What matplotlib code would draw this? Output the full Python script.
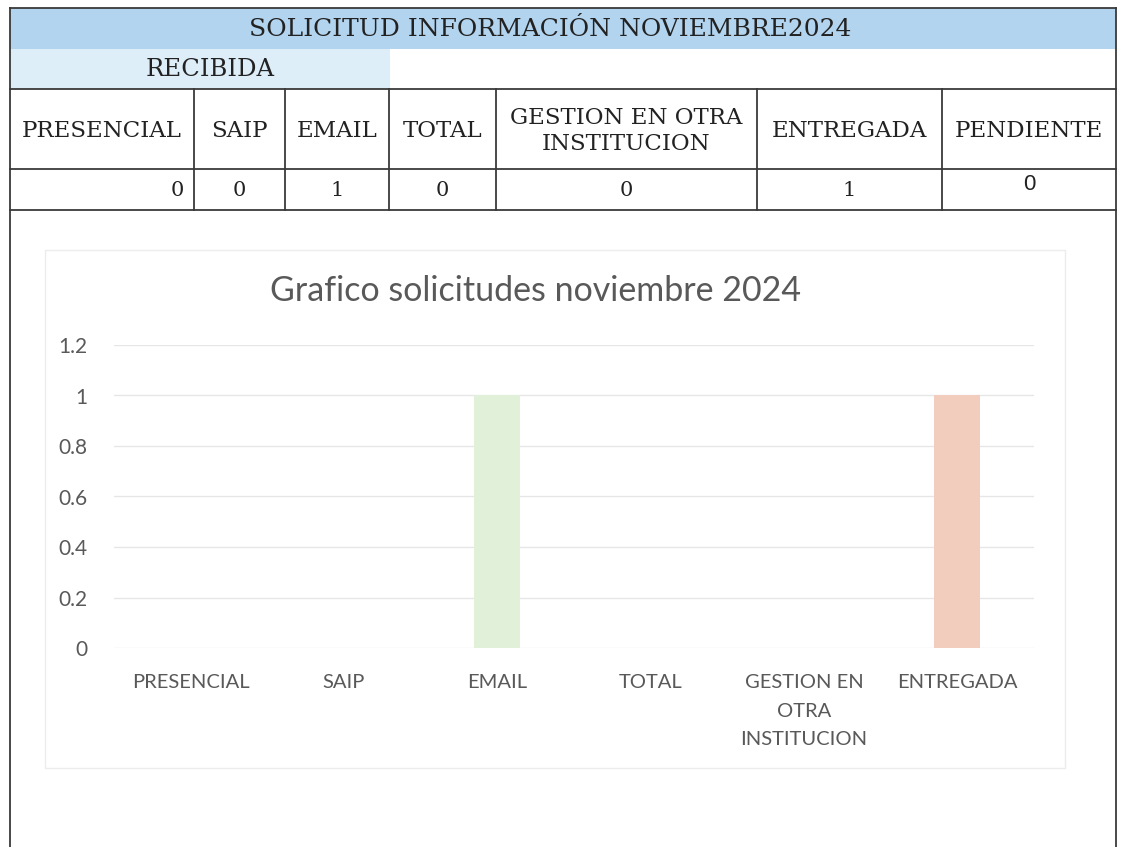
import matplotlib
matplotlib.use("Agg")
import matplotlib.pyplot as plt
from matplotlib.patches import Rectangle
from matplotlib.lines import Line2D

# table data
table_title = "SOLICITUD INFORMACIÓN NOVIEMBRE2024"
group_label = "RECIBIDA"
table_headers = ["PRESENCIAL", "SAIP", "EMAIL", "TOTAL",
                 "GESTION EN OTRA\nINSTITUCION", "ENTREGADA", "PENDIENTE"]
table_values = [0, 0, 1, 0, 0, 1, 0]

# chart data
chart_title = "Grafico solicitudes noviembre 2024"
categories = ["PRESENCIAL", "SAIP", "EMAIL", "TOTAL",
              "GESTION EN\nOTRA\nINSTITUCION", "ENTREGADA"]
values = [0, 0, 1, 0, 0, 1]
bar_colors = ["#dae3f3", "#fbe5d6", "#e1f0d9", "#ededed", "#deebf7", "#f2cdbd"]
yticks = [0, 0.2, 0.4, 0.6, 0.8, 1, 1.2]

W, H = 1122, 847
fig = plt.figure(figsize=(W / 100, H / 100), dpi=100)
fig.patch.set_facecolor("white")


def fx(x):
    return x / W


def fy(y):
    return 1 - y / H


def hline(x0, x1, y, lw=1.3, color="#3a3a3a"):
    fig.add_artist(Line2D([fx(x0), fx(x1)], [fy(y), fy(y)], lw=lw, color=color))


def vline(x, y0, y1, lw=1.3, color="#3a3a3a"):
    fig.add_artist(Line2D([fx(x), fx(x)], [fy(y0), fy(y1)], lw=lw, color=color))


def rect(x0, y0, x1, y1, **kw):
    fig.add_artist(Rectangle((fx(x0), fy(y1)), fx(x1) - fx(x0), fy(y0) - fy(y1), **kw))


# table layout (pixels)
left, right, top = 10, 1116, 8
col_x = [10, 194, 285, 389, 496, 757, 942, 1116]
y_band, y_head, y_vals, y_end = 49, 89, 169, 210

rect(left, top, right, y_band, facecolor="#b3d4ef", edgecolor="none")
rect(left, y_band, 390, y_head, facecolor="#deeef9", edgecolor="none")

hline(left, right, top)
hline(left, right, y_head)
hline(left, right, y_vals)
hline(left, right, y_end)
vline(left, top, H)
vline(right, top, H)
for x in col_x[1:-1]:
    vline(x, y_head, y_end)

serif = "DejaVu Serif"
fig.text(fx(550), fy(29), table_title, ha="center", va="center",
         family=serif, fontsize=18, color="#222222")
fig.text(fx(210), fy(70), group_label, ha="center", va="center",
         family=serif, fontsize=17.5, color="#222222")

for i, (h, v) in enumerate(zip(table_headers, table_values)):
    cx = (col_x[i] + col_x[i + 1]) / 2
    fig.text(fx(cx), fy(131), h, ha="center", va="center", family=serif,
             fontsize=16.5, color="#222222", linespacing=1.25)
    if i == 0:
        fig.text(fx(col_x[1] - 10), fy(191), str(v), ha="right", va="center",
                 family=serif, fontsize=15, color="#222222")
    elif i == len(table_values) - 1:
        fig.text(fx(cx), fy(185), str(v), ha="center", va="center",
                 family="Liberation Sans", fontsize=16, color="#222222")
    else:
        fig.text(fx(cx), fy(191), str(v), ha="center", va="center",
                 family=serif, fontsize=15, color="#222222")

# chart frame
rect(45, 250, 1065, 768, facecolor="none", edgecolor="#ececec", lw=1)

# chart axes
ax_l, ax_r, ax_t, ax_b = 114, 1034, 345, 648
ax = fig.add_axes([fx(ax_l), fy(ax_b), fx(ax_r) - fx(ax_l), fy(ax_t) - fy(ax_b)])
ax.set_facecolor("none")
x = range(len(categories))
ax.bar(x, values, width=0.3, color=bar_colors, zorder=2)
ax.set_xlim(-0.5, len(categories) - 0.5)
ax.set_ylim(0, 1.2)
ax.set_yticks(yticks)
ax.set_yticklabels(["0", "0.2", "0.4", "0.6", "0.8", "1", "1.2"])
ax.set_xticks(list(x))
ax.set_xticklabels(categories, linespacing=1.8)
ax.grid(axis="y", color="#e6e6e6", lw=1, zorder=0)
ax.set_axisbelow(True)
for s in ax.spines.values():
    s.set_visible(False)
ax.tick_params(axis="y", length=0, pad=19, labelsize=15, labelcolor="#595959")
ax.tick_params(axis="x", length=0, pad=19, labelsize=14.5, labelcolor="#595959")
for lab in ax.get_xticklabels() + ax.get_yticklabels():
    lab.set_family("Lato")

fig.text(fx(535), fy(291), chart_title, ha="center", va="center",
         family="Lato", fontsize=24.5, color="#595959")

fig.savefig("out.png", dpi=100, facecolor="white")
